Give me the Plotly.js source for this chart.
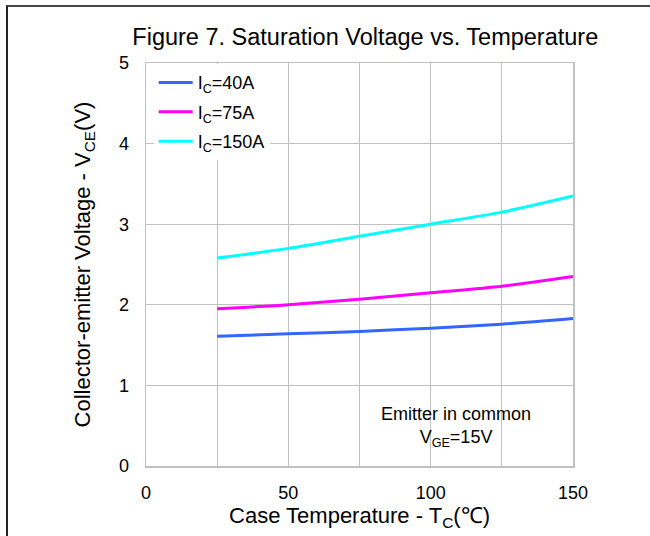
<!DOCTYPE html>
<html><head><meta charset="utf-8">
<script src="https://cdn.plot.ly/plotly-3.0.1.min.js"></script>
<style>
html,body{margin:0;padding:0;background:#fff;}
#wrap{position:relative;width:650px;height:536px;overflow:hidden;}
#frame{position:absolute;left:6px;top:5px;width:700px;height:600px;border-left:2px solid #222;border-top:2px solid #444;pointer-events:none;z-index:5;}
#chart{position:absolute;left:0;top:0;width:650px;height:536px;}
</style></head>
<body><div id="wrap"><div id="chart"></div><div id="frame"></div></div>
<script>
const tempC = [25, 50, 75, 100, 125, 150];
const vce40 = [1.61, 1.64, 1.67, 1.71, 1.76, 1.83];
const vce75 = [1.95, 2.00, 2.07, 2.15, 2.23, 2.35];
const vce150 = [2.58, 2.70, 2.85, 3.00, 3.15, 3.35];
const seriesNames = ["I<sub>C</sub>=40A", "I<sub>C</sub>=75A", "I<sub>C</sub>=150A"];
const xTicks = [0, 50, 100, 150];
const yTicks = [0, 1, 2, 3, 4, 5];

const colors = ["#3366ff", "#ff00ff", "#00ffff"];
const ys = [vce40, vce75, vce150];
const traces = ys.map((y, i) => ({
  x: tempC, y: y, type: "scatter", mode: "lines", name: seriesNames[i], legendgroup: "g" + i,
  line: {color: colors[i], width: 3, shape: "spline", smoothing: 0.8}
}));

const font = "Liberation Sans, Arial, sans-serif";
const layout = {
  width: 650, height: 536,
  margin: {l: 146, r: 77, t: 63, b: 70},
  paper_bgcolor: "#fff", plot_bgcolor: "#fff",
  font: {family: font, color: "#000", size: 18},
  showlegend: true,
  title: {text: "Figure 7. Saturation Voltage vs. Temperature", font: {family: font, size: 23.5, color: "#000"},
          x: 0.562, xanchor: "center", y: 0.932, yanchor: "middle"},
  xaxis: {range: [0, 150], tickvals: xTicks, ticktext: xTicks.map(String),
          minor: {tickvals: [25, 75, 125], showgrid: true, gridcolor: "#c0c0c0", gridwidth: 1.3, ticks: ""},
          showgrid: true, gridcolor: "#c0c0c0", gridwidth: 1.3,
          showline: true, linecolor: "#c0c0c0", linewidth: 1.5, mirror: true,
          ticks: "", zeroline: false, tickfont: {size: 18}, ticklabelstandoff: 10,
          title: {text: "Case Temperature - T<sub>C</sub>(℃)", font: {size: 22}, standoff: 3}},
  yaxis: {range: [0, 5], tickvals: yTicks, ticktext: yTicks.map(String),
          showgrid: true, gridcolor: "#c0c0c0", gridwidth: 1.3,
          showline: true, linecolor: "#c0c0c0", linewidth: 1.5, mirror: true,
          ticks: "", zeroline: false, tickfont: {size: 18}, ticklabelstandoff: 12,
          title: {text: "Collector-emitter Voltage - V<sub>CE</sub>(V)", font: {size: 22}, standoff: 22}},
  legend: {x: 0.018, y: 0.997, xanchor: "left", yanchor: "top", bgcolor: "#fff",
           borderwidth: 0, font: {size: 18}, tracegroupgap: 3, itemwidth: 34},
  annotations: [{xref: "x", yref: "y", x: 109, y: 0.48, text: "Emitter in common<br>V<sub>GE</sub>=15V",
                 showarrow: false, font: {size: 18}, align: "center"}]
};
Plotly.newPlot("chart", traces, layout, {displayModeBar: false, staticPlot: true});
</script></body></html>
